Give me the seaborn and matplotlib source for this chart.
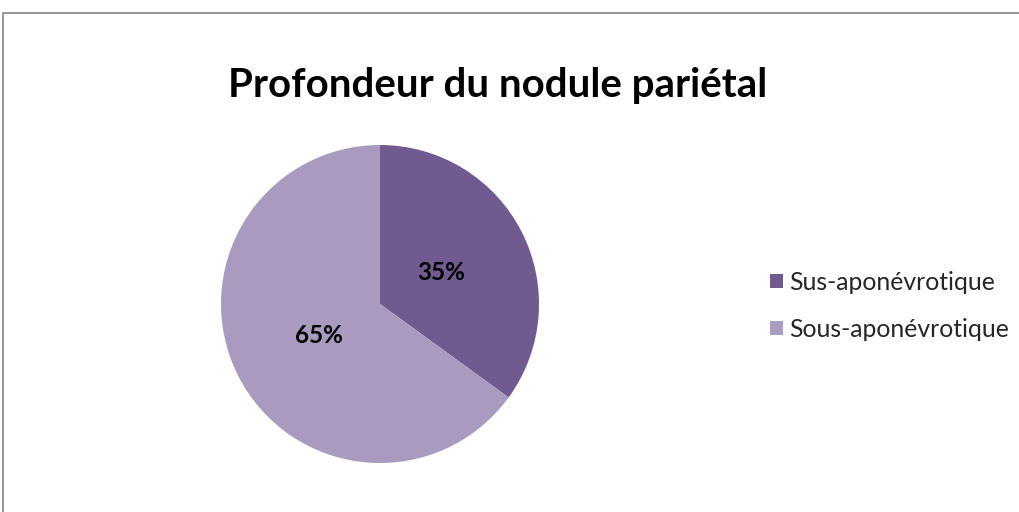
import matplotlib
matplotlib.use("Agg")
import matplotlib.pyplot as plt
from matplotlib.lines import Line2D
from matplotlib.patches import Patch
import seaborn as sns

# Données
categories = ["Sus-aponévrotique", "Sous-aponévrotique"]
valeurs = [35, 65]
couleurs = ["#715A8F", "#A99BBF"]
titre = "Profondeur du nodule pariétal"

sns.set_theme(style="white")
plt.rcParams['font.family'] = ['Lato', 'DejaVu Sans']

fig = plt.figure(figsize=(10.2, 5.12), dpi=100)

# cadre du graphique (seuls les bords gauche et haut sont visibles)
xg = 3.5/1020
yh = 1 - 12.5/512
fig.lines.append(Line2D([xg, xg, 1.0], [0.0, yh, yh], transform=fig.transFigure,
                        color="#8c8c8c", linewidth=1.3))

# camembert
ax = fig.add_axes([221/1020, 49/512, 318/1020, 318/512])
wedges, texts, autotexts = ax.pie(valeurs, colors=couleurs, startangle=90,
                                  counterclock=False, autopct="%d%%",
                                  pctdistance=0.43, radius=1,
                                  wedgeprops=dict(linewidth=0))
for t in autotexts:
    t.set_fontsize(17.5)
    t.set_fontweight("bold")
    t.set_color("black")
ax.set_xlim(-1, 1)
ax.set_ylim(-1, 1)
ax.set_aspect("equal")
ax.axis("off")

fig.text(498/1020, 1 - 85/512, titre, ha="center", va="center",
         fontsize=29, fontweight="bold", color="black")

handles = [Patch(facecolor=c, edgecolor="none") for c in couleurs]
fig.legend(handles, categories, loc="center left",
           bbox_to_anchor=(748/1020, 1 - 306/512), frameon=False,
           fontsize=17.8, handlelength=0.5, handleheight=0.5,
           handletextpad=0.25, labelspacing=0.98)

fig.savefig("out.png", dpi=100)
